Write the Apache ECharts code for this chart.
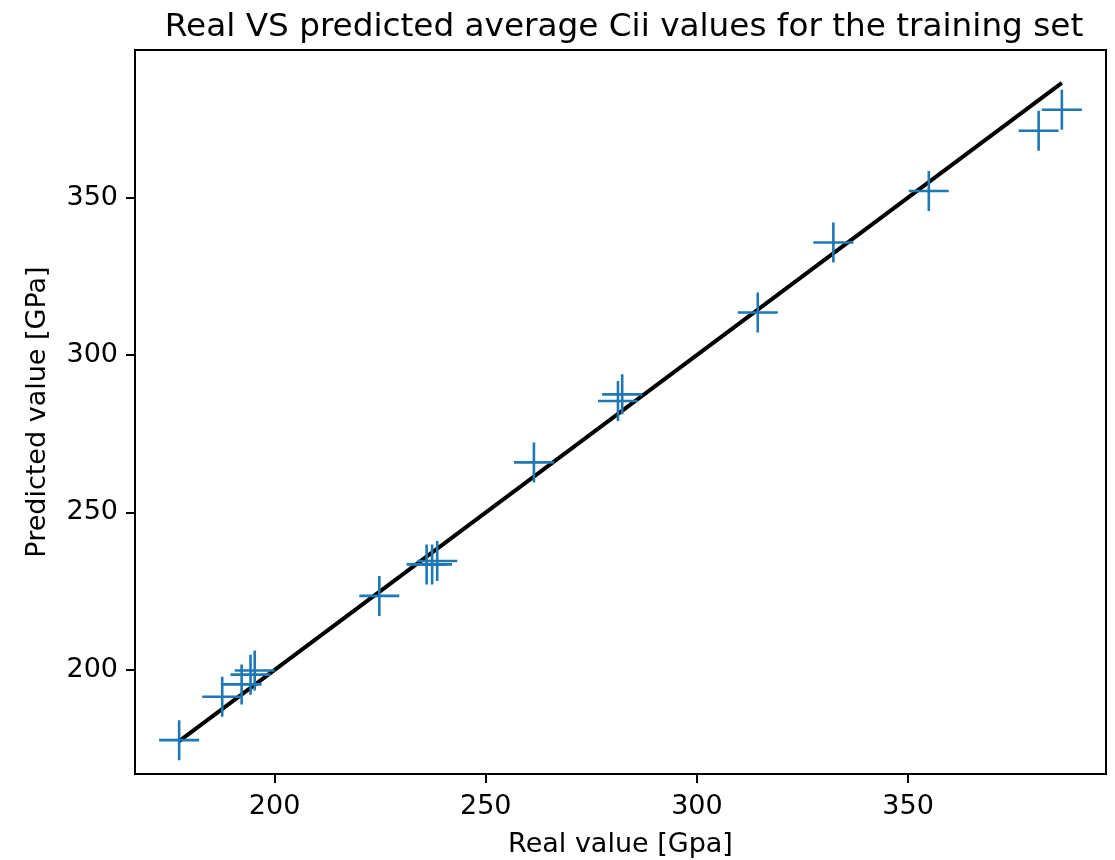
<!DOCTYPE html>
<html>
<head>
<meta charset="utf-8">
<title>Real VS predicted average Cii values</title>
<script src="https://cdn.jsdelivr.net/npm/echarts@6/dist/echarts.min.js"></script>
<style>
  html, body { margin: 0; padding: 0; background: #ffffff; }
  #chart { width: 1115px; height: 860px; }
</style>
</head>
<body>
<div id="chart"></div>
<script>
// Training set: real vs predicted average Cii (GPa)
const realValues      = [177.4, 187.6, 192.2, 194.3, 195.3, 224.8, 236.0, 237.3, 238.5, 261.4, 281.3, 282.3, 314.4, 332.3, 354.9, 380.9, 386.4];
const predictedValues = [177.7, 191.5, 195.4, 198.5, 199.8, 223.5, 233.5, 233.5, 234.6, 265.9, 285.4, 287.5, 313.5, 335.7, 352.1, 371.2, 377.9];

// Axis limits and tick labels
const xRange = [166.95, 396.85];
const yRange = [166.95, 396.85];
const xTicks = [200, 250, 300, 350];
const yTicks = [200, 250, 300, 350];

const FONT = 'DejaVu Sans';
const BLUE = '#1f77b4';

// Identity line y = x over the span of real values
const lo = Math.min(...realValues);
const hi = Math.max(...realValues);
const identity = [[lo, lo], [hi, hi]];

const points = realValues.map((v, i) => [v, predictedValues[i]]);

// Thin filled "+" marker (40-unit box, arms 2.6 wide)
const plusPath = 'path://M18.7,0h2.6v18.7h18.7v2.6h-18.7v18.7h-2.6v-18.7h-18.7v-2.6h18.7z';

const chart = echarts.init(document.getElementById('chart'), null, { renderer: 'canvas' });

chart.setOption({
  backgroundColor: '#ffffff',
  animation: false,
  title: {
    text: 'Real VS predicted average Cii values for the training set',
    left: 619,
    textAlign: 'center',
    top: 6,
    textStyle: { fontFamily: FONT, fontSize: 32.7, fontWeight: 'normal', color: '#000' }
  },
  grid: {
    left: 135, right: 9, top: 50, bottom: 86,
    outerBoundsMode: 'none',
    containLabel: false,
    show: true, borderColor: '#000', borderWidth: 2, backgroundColor: 'transparent'
  },
  xAxis: {
    type: 'value',
    min: xRange[0], max: xRange[1],
    name: 'Real value [Gpa]',
    nameLocation: 'middle',
    nameGap: 57,
    nameTextStyle: { fontFamily: FONT, fontSize: 27, color: '#000' },
    axisLine: { show: true, onZero: false, lineStyle: { color: '#000', width: 2 } },
    axisTick: { show: true, length: 9, customValues: xTicks, lineStyle: { color: '#000', width: 2 } },
    axisLabel: { customValues: xTicks, margin: 19, fontFamily: FONT, fontSize: 27, color: '#000' },
    splitLine: { show: false }
  },
  yAxis: {
    type: 'value',
    min: yRange[0], max: yRange[1],
    name: 'Predicted value [GPa]',
    nameLocation: 'middle',
    nameGap: 84,
    nameTextStyle: { fontFamily: FONT, fontSize: 27, color: '#000' },
    axisLine: { show: true, onZero: false, lineStyle: { color: '#000', width: 2 } },
    axisTick: { show: true, length: 9, customValues: yTicks, lineStyle: { color: '#000', width: 2 } },
    axisLabel: { customValues: yTicks, margin: 17, fontFamily: FONT, fontSize: 27, color: '#000' },
    splitLine: { show: false }
  },
  series: [
    {
      type: 'line',
      data: identity,
      showSymbol: false,
      lineStyle: { color: '#000', width: 4 },
      z: 2
    },
    {
      type: 'scatter',
      data: points,
      symbol: plusPath,
      symbolSize: 40,
      itemStyle: { color: BLUE, opacity: 1 },
      z: 3
    }
  ]
});
</script>
</body>
</html>
